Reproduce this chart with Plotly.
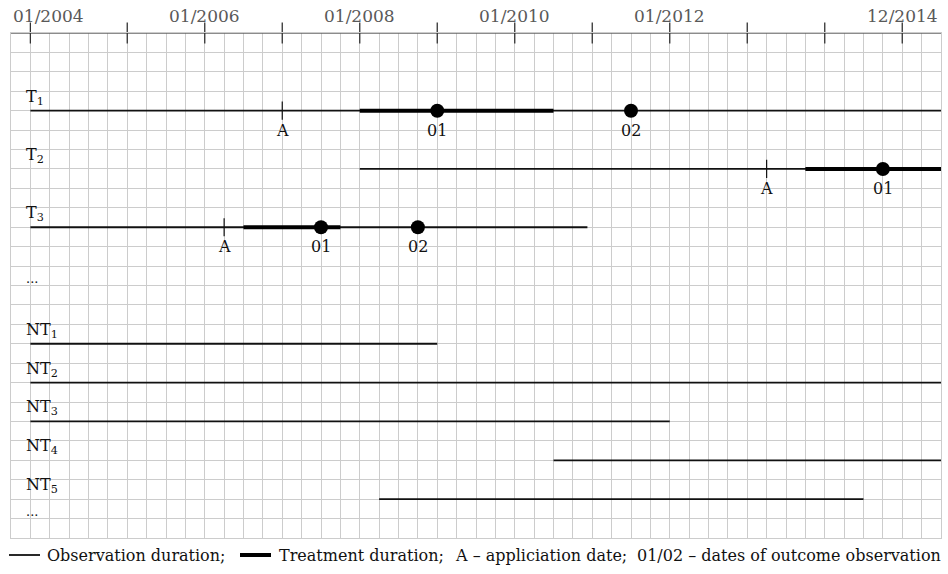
import plotly.graph_objects as go

# schematic time axis, measured in grid cells from the left edge of the grid
tick_pos = [1, 6, 10, 14, 18, 22, 26, 30, 34, 38, 42, 46]
tick_text = ["01/2004", "", "01/2006", "", "01/2008", "", "01/2010", "",
             "01/2012", "", "", "12/2014"]

# treated units
t_labels = ["T<sub>1</sub>", "T<sub>2</sub>", "T<sub>3</sub>"]
t_rows = [4, 7, 10]
t_obs_start = [1, 18, 1]
t_obs_end = [48, 48, 29.75]
t_treat_start = [18, 41, 12]
t_treat_end = [28, 48, 17]
t_application = [14, 39, 11]
t_outcome1 = [22, 45, 16]
t_outcome2 = [32, None, 21]

# non-treated units
nt_labels = ["NT<sub>1</sub>", "NT<sub>2</sub>", "NT<sub>3</sub>", "NT<sub>4</sub>", "NT<sub>5</sub>"]
nt_rows = [16, 18, 20, 22, 24]
nt_obs_start = [1, 1, 1, 28, 19]
nt_obs_end = [22, 48, 34, 48, 44]

ellipsis_rows = [13, 25]

FONT = "DejaVu Serif"
W, H = 948, 574
L, R, T, B = 11, 7, 33, 36
X_MAX, Y_MAX = 48, 26


def px_x(px):
    return (px - L) / (W - L - R)


def px_y(py):
    return (H - B - py) / (H - T - B)


def segs(starts, ends, rows):
    xs, ys = [], []
    for s, e, r in zip(starts, ends, rows):
        xs += [s, e, None]
        ys += [r, r, None]
    return xs, ys


fig = go.Figure()

# observation durations (thin)
ox, oy = segs(t_obs_start + nt_obs_start, t_obs_end + nt_obs_end, t_rows + nt_rows)
fig.add_trace(go.Scatter(x=ox, y=oy, mode="lines", line=dict(color="#111", width=1.8),
                         hoverinfo="skip", cliponaxis=False))

# treatment durations (thick)
tx, ty = segs(t_treat_start, t_treat_end, t_rows)
fig.add_trace(go.Scatter(x=tx, y=ty, mode="lines", line=dict(color="#000", width=4),
                         hoverinfo="skip", cliponaxis=False))

# application dates
fig.add_trace(go.Scatter(x=t_application, y=t_rows, mode="markers",
                         marker=dict(symbol="line-ns", size=13, line=dict(color="#111", width=1.2)),
                         hoverinfo="skip"))

# outcome observations
dx, dy, dt = [], [], []
for r, o1, o2 in zip(t_rows, t_outcome1, t_outcome2):
    for o, name in ((o1, "01"), (o2, "02")):
        if o is not None:
            dx.append(o)
            dy.append(r)
            dt.append(name)
fig.add_trace(go.Scatter(x=dx, y=dy, mode="markers", marker=dict(color="#000", size=14),
                         hoverinfo="skip", cliponaxis=False))

# labels under the marks
for x, r in zip(t_application, t_rows):
    fig.add_annotation(x=x, y=r + 1.0, text="A", showarrow=False, yanchor="middle",
                       font=dict(family=FONT, size=16, color="#111"))
for x, r, t in zip(dx, dy, dt):
    fig.add_annotation(x=x, y=r + 1.0, text=t, showarrow=False, yanchor="middle",
                       font=dict(family=FONT, size=16, color="#111"))

# row labels
for lab, r in zip(t_labels + nt_labels, t_rows + nt_rows):
    fig.add_annotation(x=0.65, y=r - 0.05, text=lab, showarrow=False, xanchor="left",
                       yanchor="bottom", font=dict(family=FONT, size=16, color="#111"))
for r in ellipsis_rows:
    fig.add_annotation(x=0.65, y=r + 0.15, text="...", showarrow=False, xanchor="left",
                       yanchor="bottom", font=dict(family=FONT, size=13, color="#111"))

# top time axis with arrow and crossing ticks
fig.add_trace(go.Scatter(x=[0, X_MAX + 0.2], y=[0, 0], mode="lines",
                         line=dict(color="#666", width=1.5), hoverinfo="skip", cliponaxis=False))
fig.add_trace(go.Scatter(x=[X_MAX + 0.2], y=[0], mode="markers",
                         marker=dict(symbol="triangle-right", size=9, color="#666"),
                         hoverinfo="skip", cliponaxis=False))
fig.add_trace(go.Scatter(x=tick_pos, y=[0] * len(tick_pos), mode="markers",
                         marker=dict(symbol="line-ns", size=15, line=dict(color="#333", width=1.3)),
                         hoverinfo="skip", cliponaxis=False))
for i, (x, t) in enumerate(zip(tick_pos, tick_text)):
    if not t:
        continue
    fig.add_annotation(x=0 if i == 0 else x, y=0, text=t, showarrow=False,
                       xanchor="left" if i == 0 else "center", yanchor="bottom", yshift=5,
                       font=dict(family=FONT, size=17, color="#595959"))

# legend row beneath the grid
ly = px_y(555)
leg_font = dict(family=FONT, size=16, color="#111")
fig.add_shape(type="line", xref="paper", yref="paper", x0=px_x(9), x1=px_x(40), y0=ly, y1=ly,
              line=dict(color="#111", width=1.8))
fig.add_shape(type="line", xref="paper", yref="paper", x0=px_x(240), x1=px_x(271), y0=ly, y1=ly,
              line=dict(color="#000", width=4))
fig.add_annotation(xref="paper", yref="paper", x=px_x(45), y=ly, text="Observation duration;",
                   showarrow=False, xanchor="left", yanchor="middle", font=leg_font)
fig.add_annotation(xref="paper", yref="paper", x=px_x(277), y=ly, text="Treatment duration;",
                   showarrow=False, xanchor="left", yanchor="middle", font=leg_font)
fig.add_annotation(xref="paper", yref="paper", x=px_x(453), y=ly, text="A \u2013 appliciation date;",
                   showarrow=False, xanchor="left", yanchor="middle", font=leg_font)
fig.add_annotation(xref="paper", yref="paper", x=px_x(943), y=ly,
                   text="01/02 \u2013 dates of outcome observation",
                   showarrow=False, xanchor="right", yanchor="middle", font=leg_font)

fig.update_xaxes(range=[0, X_MAX], dtick=1, tick0=0, showgrid=True, gridcolor="#cccccc", gridwidth=1,
                 showticklabels=False, ticks="", zeroline=False, showline=True, linecolor="#cccccc",
                 mirror=True)
fig.update_yaxes(range=[Y_MAX, 0], dtick=1, tick0=0, showgrid=True, gridcolor="#cccccc", gridwidth=1,
                 showticklabels=False, ticks="", zeroline=False, showline=True, linecolor="#cccccc",
                 mirror=True)
fig.update_layout(width=W, height=H, margin=dict(l=L, r=R, t=T, b=B), showlegend=False,
                  plot_bgcolor="white", paper_bgcolor="white",
                  font=dict(family=FONT, color="#111"))

fig.write_html("out.html", config={"displayModeBar": False},
               post_script="document.body.style.margin='0px';")
